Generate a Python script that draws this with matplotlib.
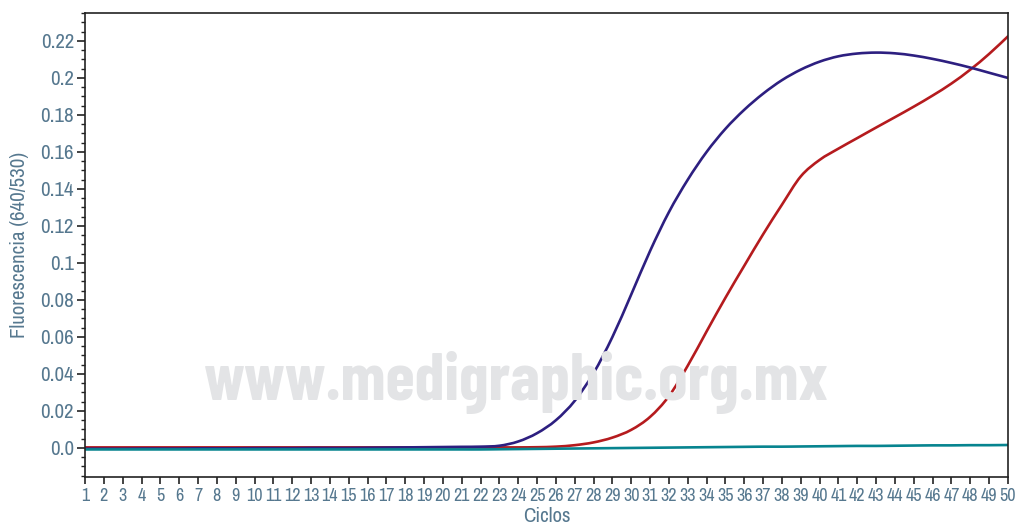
import matplotlib
matplotlib.use('Agg')
import matplotlib.pyplot as plt
import numpy as np
from matplotlib.path import Path
from matplotlib.patches import PathPatch
from matplotlib.ticker import FixedLocator, MultipleLocator

# ciclos de PCR
ciclos = list(range(1, 51))

# curvas de fluorescencia (640/530)
muestra_azul = [-0.0004, -0.0004, -0.0004, -0.0003, -0.0003, -0.0003, -0.0002, -0.0002, -0.0002, -0.0001,
                -0.0001, -0.0001, 0.0, 0.0, 0.0, 0.0001, 0.0002, 0.0003, 0.0004, 0.0005,
                0.0006, 0.0007, 0.0012, 0.0035, 0.0080, 0.0150, 0.0255, 0.0405, 0.0600, 0.0830,
                0.1065, 0.1275, 0.1450, 0.1600, 0.1725, 0.1828, 0.1915, 0.1988, 0.2045, 0.2088,
                0.2117, 0.2132, 0.2137, 0.2133, 0.2121, 0.2103, 0.2081, 0.2056, 0.2028, 0.2000]
muestra_roja = [0.0003, 0.0003, 0.0003, 0.0003, 0.0003, 0.0003, 0.0003, 0.0003, 0.0003, 0.0003,
                0.0003, 0.0003, 0.0003, 0.0003, 0.0003, 0.0003, 0.0003, 0.0003, 0.0003, 0.0003,
                0.0003, 0.0003, 0.0003, 0.0003, 0.0004, 0.0007, 0.0015, 0.0030, 0.0056, 0.0098,
                0.0168, 0.0280, 0.0445, 0.0630, 0.0812, 0.0985, 0.1155, 0.1315, 0.1468, 0.1557,
                0.1618, 0.1675, 0.1732, 0.1788, 0.1845, 0.1905, 0.1970, 0.2045, 0.2130, 0.2225]
control = [-0.0008, -0.0008, -0.0008, -0.0008, -0.0008, -0.0008, -0.0008, -0.0008, -0.0008, -0.0008,
           -0.0008, -0.0008, -0.0008, -0.0008, -0.0008, -0.0008, -0.0008, -0.0008, -0.0008, -0.0008,
           -0.0008, -0.0008, -0.0007, -0.0006, -0.0005, -0.0004, -0.0003, -0.0002, -0.0001, 0.0,
           0.0001, 0.0002, 0.0003, 0.0004, 0.0005, 0.0006, 0.0007, 0.0007, 0.0008, 0.0009,
           0.0010, 0.0011, 0.0011, 0.0012, 0.0013, 0.0014, 0.0014, 0.0015, 0.0015, 0.0016]

y_ticks = [0.0, 0.02, 0.04, 0.06, 0.08, 0.1, 0.12, 0.14, 0.16, 0.18, 0.2, 0.22]
y_labels = ['0.0', '0.02', '0.04', '0.06', '0.08', '0.1', '0.12', '0.14', '0.16', '0.18', '0.2', '0.22']

txt_color = '#56788f'
plt.rcParams['font.family'] = ['Archivo Narrow', 'Liberation Sans Narrow', 'DejaVu Sans']
plt.rcParams['font.stretch'] = 'condensed'


def curva(ax, xs, ys, color):
    # trazo suave (Catmull-Rom -> Bezier) que pasa por cada punto medido
    p = np.column_stack([xs, ys]).astype(float)
    p_ext = np.vstack([p[0], p, p[-1]])
    verts = [tuple(p[0])]
    codes = [Path.MOVETO]
    for i in range(1, len(p_ext) - 2):
        p0, p1, p2, p3 = p_ext[i - 1], p_ext[i], p_ext[i + 1], p_ext[i + 2]
        verts += [tuple(p1 + (p2 - p0) / 6), tuple(p2 - (p3 - p1) / 6), tuple(p2)]
        codes += [Path.CURVE4] * 3
    ax.add_patch(PathPatch(Path(verts, codes), fill=False, edgecolor=color, lw=1.9,
                           capstyle='round', joinstyle='round'))


fig = plt.figure(figsize=(10.15, 5.29), dpi=100)
ax = fig.add_axes([85 / 1015, 52 / 529, 923 / 1015, 464 / 529])
ax.patch.set_alpha(0)

# marca de agua
fig.text(516 / 1015, 1 - 400 / 529, 'www.medigraphic.org.mx', color='#e3e4e6',
         fontsize=48, fontweight='bold', ha='center', va='baseline', zorder=0,
         family=['Barlow Condensed', 'DejaVu Sans'], fontstretch='condensed')

curva(ax, ciclos, muestra_roja, '#b51b1e')
curva(ax, ciclos, muestra_azul, '#2d1f80')
curva(ax, ciclos, control, '#07848f')

ax.set_xlim(1, 50)
ax.set_ylim(-0.0157, 0.2351)
ax.set_xticks(ciclos)
ax.set_xticklabels([str(c) for c in ciclos])
ax.yaxis.set_major_locator(FixedLocator(y_ticks))
ax.set_yticklabels(y_labels)
ax.yaxis.set_minor_locator(MultipleLocator(0.005))

ax.tick_params(axis='x', direction='out', length=5, width=1.2, colors='#222222',
               labelcolor=txt_color, labelsize=13, pad=3)
ax.tick_params(axis='y', which='major', direction='out', length=6, width=1.2, colors='#222222',
               labelcolor=txt_color, labelsize=15, pad=2)
ax.tick_params(axis='y', which='minor', direction='out', length=3, width=1.0, colors='#222222')

for s in ax.spines.values():
    s.set_color('#222222')
    s.set_linewidth(1.2)

ax.set_xlabel('Ciclos', color=txt_color, fontsize=15, labelpad=2)
ax.set_ylabel('Fluorescencia (640/530)', color=txt_color, fontsize=15, labelpad=8)

fig.savefig('out.png', dpi=100)
